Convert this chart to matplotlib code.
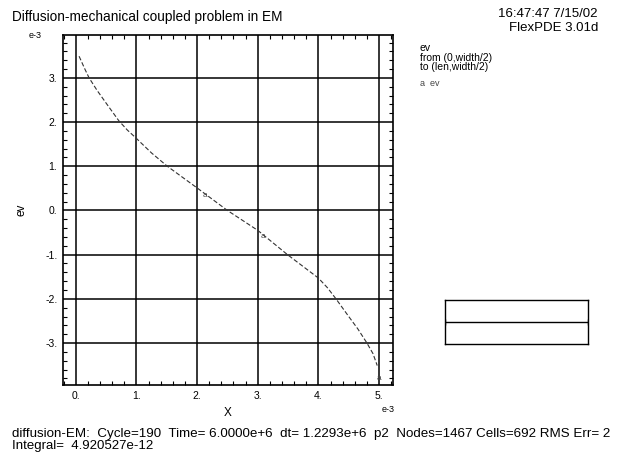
import matplotlib
matplotlib.use("Agg")
import matplotlib.pyplot as plt
import numpy as np

plt.rcParams['font.family'] = ['Liberation Sans', 'DejaVu Sans']

# data (x in units of 1e-3, ev in units of 1e-3)
x_vals = [0.055, 0.15, 0.22, 0.35, 0.5, 0.71, 0.85, 1.0, 1.25, 1.51, 2.0, 2.5, 3.0, 3.49,
          4.0, 4.15, 4.29, 4.5, 4.65, 4.8, 4.9, 4.97]
ev_vals = [3.49, 3.2, 3.0, 2.72, 2.43, 2.03, 1.82, 1.63, 1.3, 1.0, 0.51, 0.0, -0.45, -1.0,
           -1.53, -1.75, -2.0, -2.4, -2.68, -3.0, -3.24, -3.51]
label_x = [2.13, 3.09, 4.99]
label_y = [0.34, -0.59, -3.8]
x_ticks = [0, 1, 2, 3, 4, 5]
x_tick_labels = ["0.", "1.", "2.", "3.", "4.", "5."]
y_ticks = [-3, -2, -1, 0, 1, 2, 3]
y_tick_labels = ["-3.", "-2.", "-1.", "0.", "1.", "2.", "3."]
domain_len = 5.0
domain_width = 1.5

fig = plt.figure(figsize=(6.19, 4.63), dpi=100)
ax = fig.add_axes([63/619, 1-385/463, 330/619, 350/463])
ax.set_xlim(-0.21, 5.23)
ax.set_ylim(-3.95, 3.97)
ax.plot(x_vals, ev_vals, color='#333333', lw=0.8, ls=(0, (4, 2)))
for lx, ly in zip(label_x, label_y):
    ax.text(lx, ly, 'a', fontsize=6, ha='center', va='center', color='#444444')

ax.set_xticks(x_ticks)
ax.set_xticklabels(x_tick_labels, fontsize=7.5)
ax.set_yticks(y_ticks)
ax.set_yticklabels(y_tick_labels, fontsize=7.5)
ax.set_xticks(np.arange(-0.2, 5.21, 0.2), minor=True)
ax.set_yticks(np.arange(-3.8, 3.81, 0.2), minor=True)
ax.tick_params(which='both', direction='in', top=True, right=True, width=0.8, color='black')
ax.tick_params(which='major', length=0, pad=4)
ax.tick_params(which='minor', length=3)
ax.grid(True, which='major', color='black', lw=1.1)
for s in ax.spines.values():
    s.set_linewidth(1.2)

ax.set_xlabel('X', fontsize=8.5, labelpad=5)
ax.set_ylabel('ev', fontsize=8.5, labelpad=13)
fig.text(35/619, 1-35/463, 'e-3', fontsize=6.5, ha='center', va='center')
fig.text(388/619, 1-409/463, 'e-3', fontsize=6.5, ha='center', va='center')

fig.text(12/619, 1-17/463, 'Diffusion-mechanical coupled problem in EM', fontsize=9.8, ha='left', va='center')
fig.text(598/619, 1-14/463, '16:47:47 7/15/02', fontsize=9.5, ha='right', va='center')
fig.text(598/619, 1-28/463, 'FlexPDE 3.01d', fontsize=9.5, ha='right', va='center')

fig.text(420/619, 1-48/463, 'ev', fontsize=7.5, ha='left', va='center')
fig.text(420/619, 1-58/463, 'from (0,width/2)', fontsize=7.5, ha='left', va='center')
fig.text(420/619, 1-67/463, 'to (len,width/2)', fontsize=7.5, ha='left', va='center')
fig.text(420/619, 1-84/463, 'a  ev', fontsize=6.5, ha='left', va='center', color='#444444')

fig.text(12/619, 1-434/463, 'diffusion-EM:  Cycle=190  Time= 6.0000e+6  dt= 1.2293e+6  p2  Nodes=1467 Cells=692 RMS Err= 2',
         fontsize=9.6, ha='left', va='center')
fig.text(12/619, 1-446/463, 'Integral=  4.920527e-12', fontsize=9.5, ha='left', va='center')

ax2 = fig.add_axes([445/619, 1-344/463, 143/619, 44/463])
ax2.set_xlim(0, domain_len)
ax2.set_ylim(0, domain_width)
ax2.plot([0, domain_len], [domain_width/2, domain_width/2], color='black', lw=1.0,
         marker='|', markersize=5)
ax2.set_xticks([])
ax2.set_yticks([])
for s in ax2.spines.values():
    s.set_linewidth(1.0)

fig.savefig('out.png', dpi=100)
